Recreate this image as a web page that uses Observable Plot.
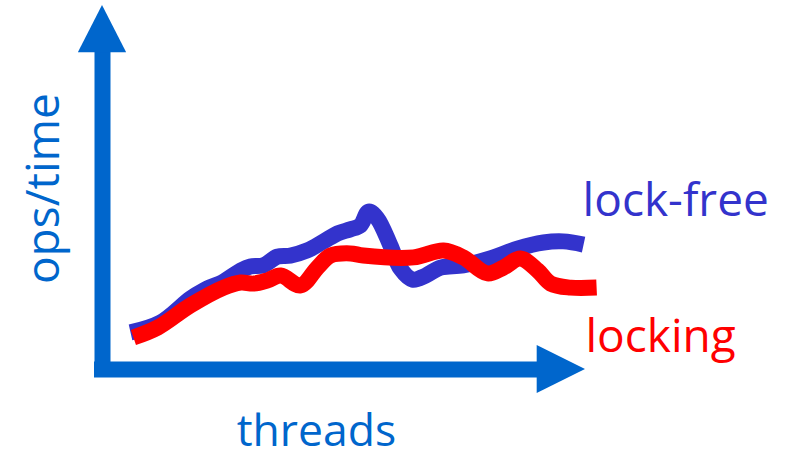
<!DOCTYPE html>
<html>
<head>
<meta charset="utf-8">
<script src="https://cdn.jsdelivr.net/npm/d3@7"></script>
<script src="https://cdn.jsdelivr.net/npm/@observablehq/plot@0.6"></script>
<style>
  html, body { margin: 0; padding: 0; background: #ffffff; }
  #chart svg { display: block; }
</style>
</head>
<body>
<div id="chart"></div>
<script>
// ---- data (threads on x, ops/time on y; arbitrary units 0..100) ----
const lockFreeThreads = [5.8, 12.0, 18.2, 20.9, 25.1, 28.6, 30.6, 33.3, 36.2, 38.9, 42.4, 45.8, 48.7, 51.3, 53.4, 55.1, 56.9, 59.6, 61.7, 64.2, 66.9, 70.0, 74.7, 80.3, 85.9, 91.3, 95.4, 99.6];
const lockFreeOps     = [10.2, 12.9, 19.5, 21.7, 24.2, 27.2, 28.3, 28.6, 31.0, 31.3, 32.7, 35.2, 37.4, 38.5, 39.6, 43.4, 41.5, 34.1, 27.7, 24.7, 25.8, 28.0, 28.6, 30.5, 33.2, 34.9, 35.2, 34.3];
const lockingThreads  = [6.4, 11.4, 18.2, 25.1, 28.6, 31.3, 34.2, 36.9, 41.0, 44.5, 47.2, 51.3, 54.0, 64.4, 70.6, 74.7, 79.7, 83.0, 86.5, 90.1, 92.8, 96.9, 102.3];
const lockingOps      = [8.8, 11.5, 17.6, 22.5, 23.9, 23.6, 24.5, 25.8, 23.1, 28.0, 31.3, 31.9, 31.3, 30.8, 32.7, 30.8, 26.4, 28.0, 30.5, 27.2, 23.6, 22.5, 22.5];

const seriesNames = ["lock-free", "locking"];
const xAxisLabel = "threads";
const yAxisLabel = "ops/time";

// axis arrow geometry (data units)
const xArrowBase = 90, xArrowTip = 100, xHeadHalf = 6.6;
const yArrowBase = 87, yArrowTip = 100, yHeadHalf = 5.0;

// ---- tables built from arrays ----
const lockFree = lockFreeThreads.map((t, i) => ({t, v: lockFreeOps[i]}));
const locking = lockingThreads.map((t, i) => ({t, v: lockingOps[i]}));
const xHead = [{t: xArrowBase, lo: -xHeadHalf, hi: xHeadHalf}, {t: xArrowTip, lo: 0, hi: 0}];
const yHead = [{v: yArrowBase, lo: -yHeadHalf, hi: yHeadHalf}, {v: yArrowTip, lo: 0, hi: 0}];

const axisColor = "#0066cc";
const blue = "#3333cc";
const red = "#ff0000";
const font = "'Open Sans', 'Noto Sans', sans-serif";

const chart = Plot.plot({
  width: 785,
  height: 451,
  margin: 0,
  style: {background: "#ffffff", fontFamily: font},
  x: {domain: [0, 100], range: [102, 585], axis: null},
  y: {domain: [0, 100], range: [369, 5], axis: null},
  marks: [
    // axes
    Plot.ruleY([0], {x1: 0, x2: xArrowBase, stroke: axisColor, strokeWidth: 16, strokeLinecap: "square"}),
    Plot.ruleX([0], {y1: 0, y2: yArrowBase, stroke: axisColor, strokeWidth: 16, strokeLinecap: "square"}),
    Plot.areaY(xHead, {x: "t", y1: "lo", y2: "hi", fill: axisColor}),
    Plot.areaX(yHead, {y: "v", x1: "lo", x2: "hi", fill: axisColor}),
    // series
    Plot.line(lockFree, {x: "t", y: "v", stroke: blue, strokeWidth: 16, curve: "catmull-rom", strokeLinecap: "butt", strokeLinejoin: "round"}),
    Plot.line(locking, {x: "t", y: "v", stroke: red, strokeWidth: 16, curve: "catmull-rom", strokeLinecap: "butt", strokeLinejoin: "round"}),
    // labels
    Plot.text([seriesNames[0]], {x: 99.4, y: 42.3, text: d => d, fill: blue, fontSize: 46, textAnchor: "start", lineAnchor: "bottom"}),
    Plot.text([seriesNames[1]], {x: 100, y: 4.7, text: d => d, fill: red, fontSize: 46, textAnchor: "start", lineAnchor: "bottom"}),
    Plot.text([xAxisLabel], {x: 44.3, y: -20.9, text: d => d, fill: axisColor, fontSize: 44.5, textAnchor: "middle", lineAnchor: "bottom"}),
    Plot.text([yAxisLabel], {x: -9.1, y: 49.7, text: d => d, fill: axisColor, fontSize: 46, textAnchor: "middle", lineAnchor: "bottom", rotate: -90})
  ]
});
document.getElementById("chart").appendChild(chart);
</script>
</body>
</html>
